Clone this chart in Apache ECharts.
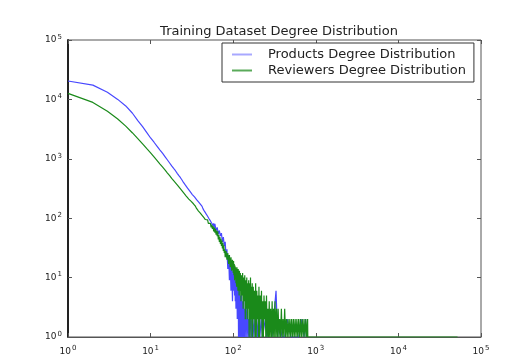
<!DOCTYPE html>
<html>
<head>
<meta charset="utf-8">
<script src="https://cdn.jsdelivr.net/npm/echarts@6/dist/echarts.min.js"></script>
<style>html,body{margin:0;padding:0;background:#fff}#c{width:517px;height:364px}</style>
</head>
<body>
<div id="c"></div>
<script>
var titleText = 'Training Dataset Degree Distribution';
var seriesNames = ['Products Degree Distribution', 'Reviewers Degree Distribution'];
var tickValues = [1, 10, 100, 1000, 10000, 100000];

var productsDegree = [1,2,3,4,5,6,7,8,9,10,11,12,13,14,15,16,17,18,19,20,21,22,23,24,25,26,27,28,29,30,
  31,32,33,34,35,36,37,38,39,40,41,42,43,44,45,46,47,48,49,50,51,52,53,54,55,56,57,58,59,60,
  62,64,66,68,70,72,74,76,78,80,82,84,86,88,90,92,94,96,98,100,
  101,102,103,104,105,106,107,108,109,110,111,112,113,114,115,116,117,118,119,120,
  122,124,126,128,130,132,134,136,138,140,143,146,149,152,155,158,162,166,170,174,179,184,190,196,
  203,210,218,226,235,245,255,265,280,295,310,330,345,360,390,420,450,500,560,620,680,720,750,770];
var productsCount = [20400,17400,13200,10000,7760,5900,4400,3480,2760,2240,1900,1620,1400,1230,1080,955,850,760,690,630,570,520,480,440,400,370,345,320,300,282,
  262,250,236,228,214,205,192,188,178,172,160,158,145,142,130,128,118,120,108,110,98,102,90,94,82,88,75,82,70,80,
  62,70,54,62,50,56,40,48,34,40,22,30,14,24,9,18,6,16,4,13,
  12,6,11,5,10,4,9,3,8,4,10,2,7,3,8,1,6,2,7,1,
  5,1,6,1,4,1,5,1,3,1,4,1,3,1,2,1,3,1,2,1,2,1,3,1,
  2,1,2,1,1,2,1,1,2,1,1,6,1,2,1,1,2,1,1,1,2,1,2,1];

var reviewersDegree = [1,2,3,4,5,6,7,8,9,10,11,12,13,14,15,16,17,18,19,20,21,22,23,24,25,26,27,28,29,30,
  31,32,33,34,35,36,37,38,39,40,41,42,43,44,45,46,47,48,49,50,51,52,53,54,55,56,57,58,59,60,
  61,62,63,64,65,66,67,68,69,70,71,72,73,74,75,76,77,78,79,80,82,84,86,88,90,92,94,96,98,100,
  101,102,103,104,105,106,107,108,109,110,111,112,113,114,115,116,117,118,119,120,
  122,124,126,128,130,132,134,136,138,140,142,144,146,148,150,152,154,156,158,160,162,164,166,168,170,172,
  175,178,181,184,187,190,193,196,199,202,205,208,212,216,220,224,228,232,236,240,244,248,253,258,263,268,
  273,278,284,290,296,302,308,314,321,328,335,342,350,358,366,374,383,392,401,410,420,430,440,451,462,473,
  485,497,509,522,535,548,562,576,590,605,620,636,652,668,685,702,720,738,757,776,796,800,52000];
var reviewersCount = [12600,8900,6300,4680,3550,2750,2190,1780,1480,1260,1080,933,815,724,645,575,520,468,430,398,365,338,312,290,270,252,236,222,210,200,
  192,180,175,162,158,146,144,132,134,122,124,112,116,103,108,95,100,88,94,82,88,76,82,70,78,66,74,60,70,57,
  66,53,62,50,60,44,52,40,48,37,45,34,42,31,38,28,35,26,30,22,28,20,26,17,24,15,22,13,20,12,
  19,11,17,9,16,10,15,8,14,7,15,8,13,6,14,7,12,5,13,6,
  12,4,11,5,12,3,10,4,11,2,9,3,10,2,8,3,9,1,8,2,10,1,7,2,8,1,
  7,2,6,1,8,1,6,2,5,1,7,1,5,2,6,1,4,1,5,2,4,1,5,1,3,1,
  4,1,3,1,4,1,3,1,4,1,3,1,3,1,2,1,3,1,2,1,3,1,2,1,2,1,
  2,1,2,1,2,1,2,1,2,1,2,1,2,1,2,1,2,1,2,1,2,1,1];

function pairs(xs, ys) { var r = []; for (var i = 0; i < xs.length; i++) r.push([xs[i], ys[i]]); return r; }
function powLabel(v) { var e = Math.round(Math.log10(v)); return '10{s|' + e + '}'; }

var chart = echarts.init(document.getElementById('c'), null, {renderer: 'canvas'});
var labelRich = {s: {fontSize: 7, verticalAlign: 'top', padding: [0, 0, 6, 1], color: '#222', fontFamily: 'DejaVu Sans'}};
var gridL = 68, gridR = 36, gridT = 40, gridB = 27;
chart.setOption({
  animation: false,
  backgroundColor: '#ffffff',
  title: {text: titleText, left: 274, textAlign: 'center', top: 20,
    textStyle: {fontSize: 13, fontWeight: 'normal', color: '#222', fontFamily: 'DejaVu Sans'}},
  legend: {
    orient: 'vertical', left: 222, top: 43,
    padding: [5, 8, 5, 10], itemGap: 3, itemWidth: 20, itemHeight: 2,
    borderColor: '#333', borderWidth: 1, backgroundColor: '#fff',
    textStyle: {fontSize: 13, color: '#222', fontFamily: 'DejaVu Sans', padding: [0, 0, 0, 11]},
    data: [{name: seriesNames[0], icon: 'rect'}, {name: seriesNames[1], icon: 'rect'}]
  },
  grid: {left: gridL, right: gridR, top: gridT, bottom: gridB, show: true, borderColor: '#555', borderWidth: 1},
  xAxis: [{
    type: 'log', logBase: 10, min: tickValues[0], max: tickValues[tickValues.length - 1],
    axisLine: {show: true, lineStyle: {color: '#555'}},
    axisTick: {show: true, inside: true, length: 4, lineStyle: {color: '#555'}},
    splitLine: {show: false},
    axisLabel: {margin: 8, fontSize: 9, color: '#222', fontFamily: 'DejaVu Sans', formatter: powLabel, rich: labelRich}
  }, {
    type: 'log', logBase: 10, min: tickValues[0], max: tickValues[tickValues.length - 1], position: 'top',
    axisLine: {show: false}, axisTick: {show: true, inside: true, length: 4, lineStyle: {color: '#555'}},
    axisLabel: {show: false}, splitLine: {show: false}
  }],
  yAxis: [{
    type: 'log', logBase: 10, min: tickValues[0], max: tickValues[tickValues.length - 1],
    axisLine: {show: true, lineStyle: {color: '#222', width: 2}},
    axisTick: {show: true, inside: true, length: 4, lineStyle: {color: '#555'}},
    splitLine: {show: false},
    axisLabel: {margin: 6, fontSize: 9, color: '#222', fontFamily: 'DejaVu Sans', formatter: powLabel, rich: labelRich}
  }, {
    type: 'log', logBase: 10, min: tickValues[0], max: tickValues[tickValues.length - 1], position: 'right',
    axisLine: {show: false}, axisTick: {show: true, inside: true, length: 4, lineStyle: {color: '#555'}},
    axisLabel: {show: false}, splitLine: {show: false}
  }],
  series: [{
    name: seriesNames[0], type: 'line', showSymbol: false, symbol: 'none',
    lineStyle: {color: '#4848ff', width: 1.2}, itemStyle: {color: '#a8a8ff'},
    data: pairs(productsDegree, productsCount), z: 2
  }, {
    name: seriesNames[1], type: 'line', showSymbol: false, symbol: 'none',
    lineStyle: {color: '#1a8a1a', width: 1.2}, itemStyle: {color: '#5aaa5a'},
    data: pairs(reviewersDegree, reviewersCount), z: 3
  }]
});
</script>
</body>
</html>
